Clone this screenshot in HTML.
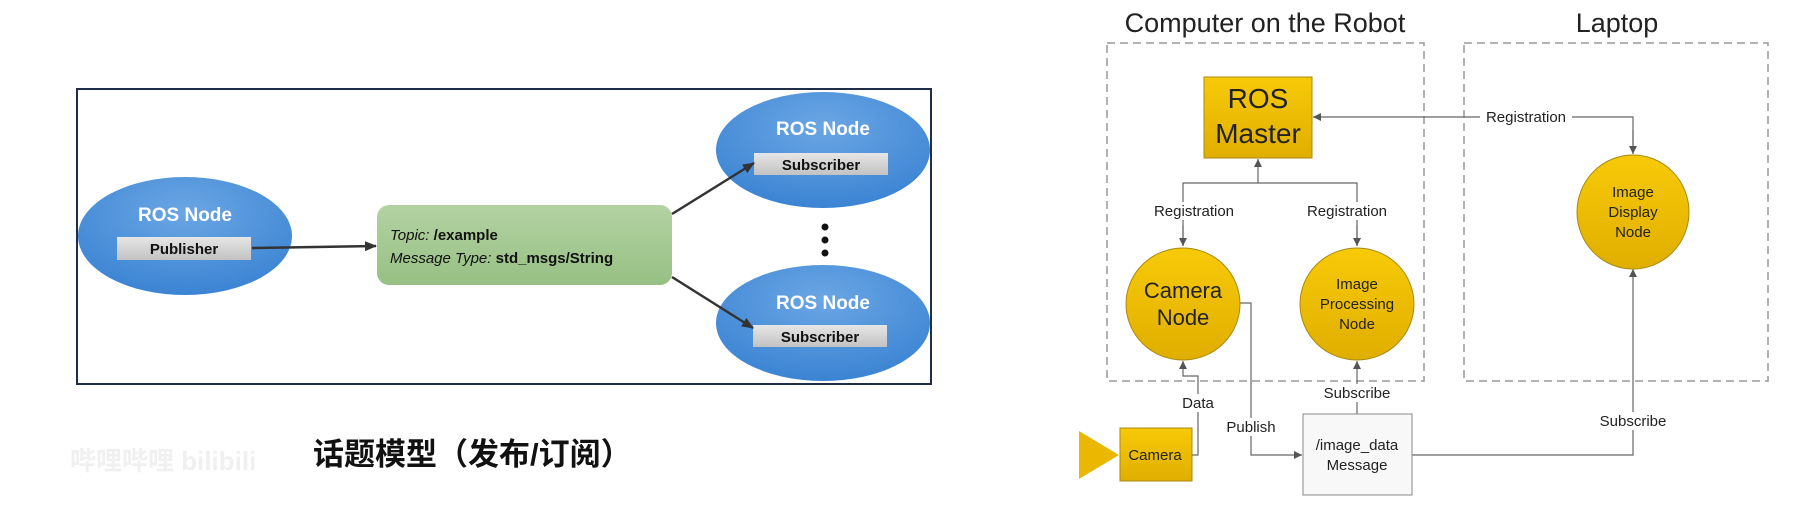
<!DOCTYPE html>
<html><head><meta charset="utf-8"><style>
html,body{margin:0;padding:0;background:#fff;}
svg{display:block;}
</style></head><body>
<svg width="1809" height="506" viewBox="0 0 1809 506" xmlns="http://www.w3.org/2000/svg">
<defs>
<radialGradient id="bl" cx="50%" cy="30%" r="70%">
<stop offset="0" stop-color="#6ba6e4"/><stop offset="1" stop-color="#3b84d3"/></radialGradient>
<linearGradient id="gr" x1="0" y1="0" x2="0" y2="1"><stop offset="0" stop-color="#b3d2a2"/><stop offset="1" stop-color="#97c084"/></linearGradient>
<linearGradient id="gy" x1="0" y1="0" x2="0" y2="1"><stop offset="0" stop-color="#e6e6e6"/><stop offset="1" stop-color="#c2c2c2"/></linearGradient>
<linearGradient id="yl" x1="0" y1="0" x2="0" y2="1"><stop offset="0" stop-color="#f7ca08"/><stop offset="1" stop-color="#e0ae00"/></linearGradient>
<marker id="ab" markerWidth="12" markerHeight="10" refX="11" refY="5" orient="auto" markerUnits="userSpaceOnUse"><path d="M0,0 L12,5 L0,10 z" fill="#333"/></marker>
<marker id="as" markerWidth="8" markerHeight="8" refX="8" refY="4" orient="auto" markerUnits="userSpaceOnUse"><path d="M0,0 L8,4 L0,8 z" fill="#555"/></marker>
</defs>
<!-- LEFT -->
<rect x="77" y="89" width="854" height="295" fill="#fff" stroke="#1f2f4a" stroke-width="2"/>
<g font-family="Liberation Sans, sans-serif" font-weight="bold">
<ellipse cx="185" cy="236" rx="107" ry="59" fill="url(#bl)"/>
<text x="185" y="221" fill="#fff" font-size="19" text-anchor="middle">ROS Node</text>
<rect x="117" y="237" width="134" height="23" fill="url(#gy)"/>
<text x="184" y="254" fill="#111" font-size="15" text-anchor="middle">Publisher</text>
<ellipse cx="823" cy="150" rx="107" ry="58" fill="url(#bl)"/>
<text x="823" y="135" fill="#fff" font-size="19" text-anchor="middle">ROS Node</text>
<rect x="754" y="153" width="134" height="22" fill="url(#gy)"/>
<text x="821" y="170" fill="#111" font-size="15" text-anchor="middle">Subscriber</text>
<ellipse cx="823" cy="323" rx="107" ry="58" fill="url(#bl)"/>
<text x="823" y="309" fill="#fff" font-size="19" text-anchor="middle">ROS Node</text>
<rect x="753" y="325" width="134" height="22" fill="url(#gy)"/>
<text x="820" y="342" fill="#111" font-size="15" text-anchor="middle">Subscriber</text>
</g>
<circle cx="825" cy="227" r="3.5" fill="#111"/><circle cx="825" cy="240" r="3.5" fill="#111"/><circle cx="825" cy="253" r="3.5" fill="#111"/>
<rect x="377" y="205" width="295" height="80" rx="12" fill="url(#gr)"/>
<g font-family="Liberation Sans, sans-serif" font-size="15" fill="#111">
<text x="390" y="240"><tspan font-style="italic">Topic:</tspan><tspan font-weight="bold"> /example</tspan></text>
<text x="390" y="263"><tspan font-style="italic">Message Type:</tspan><tspan font-weight="bold"> std_msgs/String</tspan></text>
</g>
<g stroke="#333" stroke-width="2.5" fill="none">
<line x1="252" y1="248" x2="376" y2="246" marker-end="url(#ab)"/>
<line x1="672" y1="214" x2="754" y2="163" marker-end="url(#ab)"/>
<line x1="672" y1="277" x2="753" y2="328" marker-end="url(#ab)"/>
</g>
<text x="70" y="470" font-family="Liberation Sans, 'Noto Sans CJK SC', sans-serif" font-size="26" font-weight="bold" fill="#f0f0f0">哔哩哔哩 bilibili</text>
<text x="313" y="465" font-family="Liberation Sans, 'Noto Sans CJK SC', sans-serif" font-size="31" font-weight="bold" fill="#111">话题模型（发布/订阅）</text>
<!-- RIGHT -->
<g font-family="Liberation Sans, sans-serif" fill="#222" text-anchor="middle">
<text x="1265" y="32" font-size="27">Computer on the Robot</text>
<text x="1617" y="32" font-size="27">Laptop</text>
</g>
<g fill="none" stroke="#999" stroke-width="1.5" stroke-dasharray="8,5">
<rect x="1107" y="43" width="317" height="338"/>
<rect x="1464" y="43" width="304" height="338"/>
</g>
<g stroke="#666" stroke-width="1.2" fill="none">
<polyline points="1633,154 1633,117 1313,117" marker-end="url(#as)"/>
<line x1="1633" y1="130" x2="1633" y2="154" marker-end="url(#as)"/>
<line x1="1258" y1="183" x2="1258" y2="159" marker-end="url(#as)"/>
<polyline points="1183,246 1183,183 1357,183 1357,246"/>
<line x1="1183" y1="225" x2="1183" y2="246" marker-end="url(#as)"/>
<line x1="1357" y1="225" x2="1357" y2="246" marker-end="url(#as)"/>
<polyline points="1192,455 1198,455 1198,376 1183,376 1183,361" marker-end="url(#as)"/>
<polyline points="1240,303 1251,303 1251,455 1302,455" marker-end="url(#as)"/>
<polyline points="1357,414 1357,361" marker-end="url(#as)"/>
<polyline points="1412,455 1633,455 1633,269" marker-end="url(#as)"/>
</g>
<rect x="1204" y="77" width="108" height="81" fill="url(#yl)" stroke="#a88a10"/>
<ellipse cx="1183" cy="304" rx="57" ry="56" fill="url(#yl)" stroke="#a88a10"/>
<ellipse cx="1357" cy="304" rx="57" ry="56" fill="url(#yl)" stroke="#a88a10"/>
<ellipse cx="1633" cy="212" rx="56" ry="57" fill="url(#yl)" stroke="#a88a10"/>
<rect x="1120" y="428" width="72" height="53" fill="url(#yl)" stroke="#a88a10"/>
<path d="M1079,431 L1119,455 L1079,479 z" fill="#eab800"/>
<rect x="1303" y="414" width="109" height="81" fill="#f8f8f8" stroke="#888"/>
<g font-family="Liberation Sans, sans-serif" fill="#222" text-anchor="middle">
<text x="1258" y="108" font-size="28">ROS</text>
<text x="1258" y="143" font-size="28">Master</text>
<text x="1183" y="298" font-size="22">Camera</text>
<text x="1183" y="325" font-size="22">Node</text>
<text x="1357" y="289" font-size="15">Image</text>
<text x="1357" y="309" font-size="15">Processing</text>
<text x="1357" y="329" font-size="15">Node</text>
<text x="1633" y="197" font-size="15">Image</text>
<text x="1633" y="217" font-size="15">Display</text>
<text x="1633" y="237" font-size="15">Node</text>
<text x="1155" y="460" font-size="15">Camera</text>
<text x="1357" y="450" font-size="15">/image_data</text>
<text x="1357" y="470" font-size="15">Message</text>
<rect x="1480" y="108" width="92" height="18" fill="#fff"/>
<text x="1526" y="122" font-size="15">Registration</text>
<rect x="1148" y="202" width="92" height="18" fill="#fff"/>
<text x="1194" y="216" font-size="15">Registration</text>
<rect x="1301" y="202" width="92" height="18" fill="#fff"/>
<text x="1347" y="216" font-size="15">Registration</text>
<rect x="1182" y="394" width="32" height="18" fill="#fff"/>
<text x="1198" y="408" font-size="15">Data</text>
<rect x="1226" y="418" width="50" height="18" fill="#fff"/>
<text x="1251" y="432" font-size="15">Publish</text>
<rect x="1324" y="384" width="66" height="18" fill="#fff"/>
<text x="1357" y="398" font-size="15">Subscribe</text>
<rect x="1600" y="412" width="66" height="18" fill="#fff"/>
<text x="1633" y="426" font-size="15">Subscribe</text>
</g>
</svg>
</body></html>
